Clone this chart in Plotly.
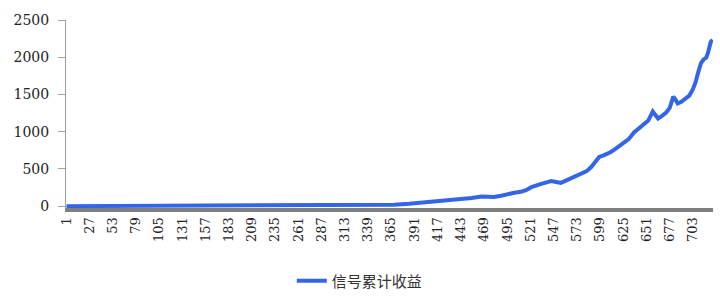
import plotly.graph_objects as go

# Trading day index (category number) at which each value was read
days = [1, 50, 100, 150, 200, 250, 300, 330, 350, 368, 385, 399, 410, 421, 432,
        443, 455, 466, 473, 480, 488, 496, 503, 510, 516, 522, 527, 533, 539,
        544, 550, 555, 560, 566, 572, 578, 584, 589, 594, 598, 603, 607, 611,
        617, 622, 627, 631, 637, 641, 645, 648, 653, 658, 661, 664, 668, 673,
        677, 681, 683, 686, 690, 695, 699, 703, 706, 709, 712, 715, 718, 720,
        723, 725]
# Cumulative signal return
cum_return = [0, 1, 2, 2, 3, 4, 6, 9, 12, 20, 32, 45, 55, 70, 80,
              92, 110, 130, 128, 124, 140, 165, 180, 192, 215, 255, 280, 300, 320,
              338, 325, 312, 340, 370, 400, 435, 470, 525, 590, 660, 683, 700, 728,
              775, 815, 860, 900, 990, 1030, 1062, 1105, 1150, 1272, 1220, 1178, 1210, 1255,
              1320, 1470, 1440, 1378, 1400, 1440, 1485, 1570, 1664, 1800, 1920, 1970, 1995, 2066,
              2205, 2235]

n_days = 725
tick_vals = list(range(1, 704, 26))
tick_text = [str(v) for v in tick_vals]
y_ticks = [0, 500, 1000, 1500, 2000, 2500]
series_name = "信号累计收益"

fig = go.Figure()
fig.add_trace(go.Scatter(
    x=days, y=cum_return, mode="lines", name=series_name,
    line=dict(color="#3366E6", width=4),
))

serif = "DejaVu Serif"
fig.update_layout(
    width=720, height=300,
    margin=dict(l=66, r=7, t=20, b=92, autoexpand=False),
    paper_bgcolor="white", plot_bgcolor="white",
    showlegend=True,
    legend=dict(
        orientation="h", x=0.349, xanchor="left", y=-0.388, yanchor="middle",
        font=dict(family="Noto Sans CJK SC", size=15, color="#333333"),
        bgcolor="rgba(0,0,0,0)",
    ),
    xaxis=dict(
        range=[0.5, n_days + 0.5], tickmode="array", tickvals=tick_vals,
        ticktext=tick_text, tickangle=-90, showgrid=False, zeroline=False,
        showline=True, linecolor="#808080", linewidth=4, ticks="",
        automargin=False,
        tickfont=dict(family=serif, size=13, color="#222222"),
    ),
    yaxis=dict(
        range=[-25, 2500], tickmode="array", tickvals=y_ticks,
        showgrid=False, zeroline=False, showline=True, linecolor="#A0A0A0",
        linewidth=1, ticks="outside", ticklen=7, tickcolor="#A0A0A0",
        ticklabelstandoff=6, automargin=False,
        tickfont=dict(family=serif, size=14, color="#222222"),
    ),
)

fig.write_html("out.html")
